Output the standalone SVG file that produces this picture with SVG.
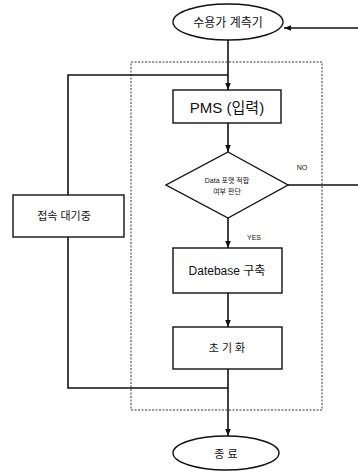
<svg xmlns="http://www.w3.org/2000/svg" width="358" height="473" viewBox="0 0 358 473">
  <style>
    .shape { fill: #fff; stroke: #111; stroke-width: 1.4; }
    .line { fill: none; stroke: #111; stroke-width: 1.6; }
    .dash { fill: none; stroke: #333; stroke-width: 1; stroke-dasharray: 2 1.5; }
    text { font-family: "Liberation Sans", "Noto Sans CJK KR", sans-serif; fill: #111; text-anchor: middle; dominant-baseline: central; }
  </style>
  <defs>
    <marker id="arrow" viewBox="0 0 10 10" refX="10" refY="5" markerWidth="7" markerHeight="7" orient="auto" markerUnits="userSpaceOnUse">
      <path d="M0,1 L10,5 L0,9 Z" fill="#111"/>
    </marker>
  </defs>
  <rect width="358" height="473" fill="#fff"/>

  <!-- processing boundary -->
  <rect class="dash" x="131" y="62" width="191" height="348"/>

  <g id="connectors">
    <!-- feedback from the NO branch into the meter node -->
    <path class="line" d="M358,28 L284,28" marker-end="url(#arrow)"/>
    <!-- meter to PMS -->
    <path class="line" d="M228,40 L228,90" marker-end="url(#arrow)"/>
    <!-- waiting loop -->
    <path class="line" d="M228,388 L68,388 L68,75 L228,75"/>
    <!-- PMS to decision -->
    <path class="line" d="M228,123 L228,152" marker-end="url(#arrow)"/>
    <!-- NO branch -->
    <path class="line" d="M288,185 L358,185"/>
    <!-- YES branch -->
    <path class="line" d="M228,218 L228,248" marker-end="url(#arrow)"/>
    <!-- database to init -->
    <path class="line" d="M228,293 L228,327" marker-end="url(#arrow)"/>
    <!-- init to end -->
    <path class="line" d="M228,369 L228,436" marker-end="url(#arrow)"/>
    <text x="302" y="167" font-size="7">NO</text>
    <text x="254" y="237" font-size="7">YES</text>
  </g>

  <g id="meter">
    <ellipse class="shape" cx="228" cy="22" rx="55" ry="18"/>
    <text x="228" y="23" font-size="12">수용가 계측기</text>
  </g>

  <g id="pms">
    <rect class="shape" x="173" y="90" width="108" height="33"/>
    <text x="227" y="107" font-size="15">PMS (입력)</text>
  </g>

  <g id="decision">
    <polygon class="shape" points="228,152 288,185 228,218 166,185"/>
    <text x="227" y="180" font-size="7">Data 포맷 적합</text>
    <text x="227" y="191" font-size="7">여부 판단</text>
  </g>

  <g id="database">
    <rect class="shape" x="173" y="248" width="109" height="45"/>
    <text x="227" y="271" font-size="12">Datebase 구축</text>
  </g>

  <g id="init">
    <rect class="shape" x="173" y="327" width="109" height="42"/>
    <text x="227" y="348" font-size="11">초 기 화</text>
  </g>

  <g id="waiting">
    <rect class="shape" x="13" y="195" width="111" height="42"/>
    <text x="64" y="216" font-size="11">접속 대기중</text>
  </g>

  <g id="end">
    <ellipse class="shape" cx="226" cy="453" rx="53" ry="17"/>
    <text x="226" y="454" font-size="11">종 료</text>
  </g>
</svg>
